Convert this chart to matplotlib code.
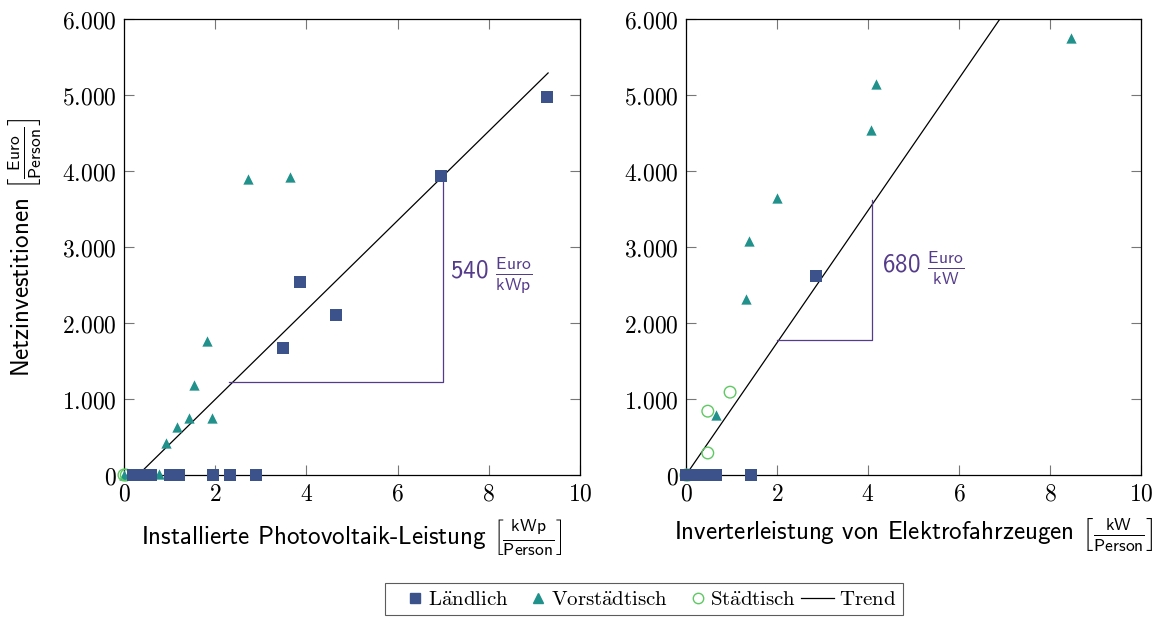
import matplotlib
matplotlib.use('Agg')
import matplotlib.pyplot as plt
from matplotlib.ticker import FuncFormatter, MultipleLocator
from matplotlib.lines import Line2D
from matplotlib.legend_handler import HandlerBase

plt.rcParams['mathtext.fontset'] = 'cm'
plt.rcParams['axes.formatter.use_mathtext'] = True

# Netzinvestitionen ueber installierter PV-Leistung
pv_laendlich_x = [0.2, 0.35, 0.5, 0.6, 1.0, 1.1, 1.2, 1.95, 2.32, 2.9, 3.49, 3.86, 4.65, 6.95, 9.28]
pv_laendlich_y = [0, 0, 0, 0, 0, 0, 0, 0, 0, 0, 1670, 2540, 2100, 3930, 4980]
pv_vorstadt_x = [0.0, 0.33, 0.77, 0.92, 1.16, 1.43, 1.53, 1.82, 1.93, 2.72, 3.64]
pv_vorstadt_y = [0, 0, 20, 420, 630, 750, 1180, 1760, 750, 3890, 3920]
pv_staedt_x = [0.0, 0.05]
pv_staedt_y = [0, 0]
pv_trend_x = [0.31, 9.3]
pv_trend_y = [0, 5290]
pv_steigung_x = [2.3, 7.0, 7.0]
pv_steigung_y = [1220, 1220, 3930]

# Netzinvestitionen ueber Inverterleistung der Elektrofahrzeuge
ev_laendlich_x = [0.0, 0.1, 0.2, 0.3, 0.4, 0.5, 0.6, 0.65, 1.43, 2.86]
ev_laendlich_y = [0, 0, 0, 0, 0, 0, 0, 0, 0, 2620]
ev_vorstadt_x = [0.05, 0.66, 1.32, 1.38, 2.0, 4.07, 4.18, 8.46]
ev_vorstadt_y = [0, 790, 2310, 3080, 3640, 4540, 5140, 5750]
ev_staedt_x = [0.0, 0.05, 0.48, 0.48, 0.97]
ev_staedt_y = [0, 0, 290, 840, 1090]
ev_trend_x = [0.0, 6.9]
ev_trend_y = [0, 6000]
ev_steigung_x = [2.0, 4.1, 4.1]
ev_steigung_y = [1780, 1780, 3620]

c_land = '#3b528b'
c_vor = '#21918c'
c_stadt = '#5ec962'
c_lila = '#553c8b'


def tausender(v, pos):
    s = '{:,.0f}'.format(v).replace(',', '.')
    return '$' + s + '$'


def panel(ax, lx, ly, vx, vy, sx, sy, tx, ty, dx, dy):
    ax.plot(tx, ty, color='black', lw=0.9, zorder=2)
    ax.plot(dx, dy, color=c_lila, lw=0.9, zorder=2)
    ax.scatter(vx, vy, marker='^', s=55, color=c_vor, lw=0, zorder=3, clip_on=False)
    ax.scatter(sx, sy, marker='o', s=70, facecolors='none', edgecolors=c_stadt, lw=1.0, zorder=3, clip_on=False)
    ax.scatter(lx, ly, marker='s', s=70, color=c_land, lw=0, zorder=4, clip_on=False)
    ax.set_xlim(0, 10)
    ax.set_ylim(0, 6000)
    ax.xaxis.set_major_locator(MultipleLocator(2))
    ax.yaxis.set_major_locator(MultipleLocator(1000))
    ax.yaxis.set_major_formatter(FuncFormatter(tausender))
    ax.xaxis.set_major_formatter(FuncFormatter(lambda v, p: '$%d$' % v))
    ax.tick_params(direction='in', top=True, right=True, length=7, width=0.8,
                   color='#777777', labelsize=17, pad=5)
    for sp in ax.spines.values():
        sp.set_linewidth(0.9)


# Legendensymbole: Marker rechts im Feld, Trendlinie ueber die ganze Breite
class RechtsHandler(HandlerBase):
    def create_artists(self, legend, orig, xdescent, ydescent, width, height, fontsize, trans):
        y = height / 2 - ydescent
        if orig.get_marker() in (None, 'None', ''):
            art = Line2D([-0.1 * fontsize - xdescent, width - xdescent], [y, y])
        else:
            art = Line2D([width - xdescent - 0.35 * fontsize], [y])
        art.update_from(orig)
        art.set_transform(trans)
        return [art]


fig = plt.figure(figsize=(11.64, 6.19), dpi=100)
ax1 = fig.add_axes([0.1065, 0.2326, 0.3918, 0.7367])
ax2 = fig.add_axes([0.5893, 0.2326, 0.3909, 0.7367])

panel(ax1, pv_laendlich_x, pv_laendlich_y, pv_vorstadt_x, pv_vorstadt_y,
      pv_staedt_x, pv_staedt_y, pv_trend_x, pv_trend_y, pv_steigung_x, pv_steigung_y)
panel(ax2, ev_laendlich_x, ev_laendlich_y, ev_vorstadt_x, ev_vorstadt_y,
      ev_staedt_x, ev_staedt_y, ev_trend_x, ev_trend_y, ev_steigung_x, ev_steigung_y)

ax1.text(7.15, 2630, r'540 $\frac{\mathsf{Euro}}{\mathsf{kWp}}$', family='cmss10',
         fontsize=18, color=c_lila, va='center')
ax2.text(4.3, 2720, r'680 $\frac{\mathsf{Euro}}{\mathsf{kW}}$', family='cmss10',
         fontsize=18, color=c_lila, va='center')

ax1.set_xlabel(r'Installierte Photovoltaik-Leistung $\left[\frac{\mathsf{kWp}}{\mathsf{Person}}\right]$',
               family='cmss10', fontsize=18, labelpad=8)
ax2.set_xlabel(r'Inverterleistung von Elektrofahrzeugen $\left[\frac{\mathsf{kW}}{\mathsf{Person}}\right]$',
               family='cmss10', fontsize=18, labelpad=8)
ax1.set_ylabel(r'Netzinvestitionen $\left[\frac{\mathsf{Euro}}{\mathsf{Person}}\right]$',
               family='cmss10', fontsize=18, labelpad=13)

handles = [
    Line2D([], [], marker='s', ls='none', color=c_land, markersize=7.5),
    Line2D([], [], marker='^', ls='none', color=c_vor, markersize=7.5),
    Line2D([], [], marker='o', ls='none', markerfacecolor='none', markeredgecolor=c_stadt, markersize=7.5),
    Line2D([], [], color='black', lw=0.9),
]
labels = [r'$\mathrm{L\ddot{a}ndlich}$', r'$\mathrm{Vorst\ddot{a}dtisch}$',
          r'$\mathrm{St\ddot{a}dtisch}$', r'$\mathrm{Trend}$']
leg = fig.legend(handles, labels, loc='center', bbox_to_anchor=(0.553, 0.032), ncol=4,
                 fontsize=15, frameon=True, fancybox=False, edgecolor='#333333',
                 handlelength=1.5, handletextpad=0.25, columnspacing=0.3,
                 borderpad=0.3, borderaxespad=0, handler_map={Line2D: RechtsHandler()})
leg.get_frame().set_linewidth(0.8)

fig.savefig('out.png', dpi=100)
